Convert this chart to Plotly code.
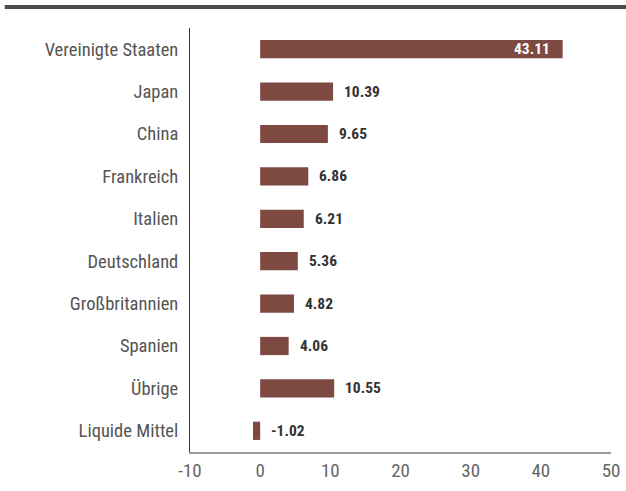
import plotly.graph_objects as go

categories = ["Vereinigte Staaten", "Japan", "China", "Frankreich", "Italien",
              "Deutschland", "Großbritannien", "Spanien", "Übrige", "Liquide Mittel"]
values = [43.11, 10.39, 9.65, 6.86, 6.21, 5.36, 4.82, 4.06, 10.55, -1.02]
tick_vals = [-10, 0, 10, 20, 30, 40, 50]
tick_text = ["-10", "0", "10", "20", "30", "40", "50"]

FONT = "Roboto Condensed, Roboto, sans-serif"
BAR = "#7d4940"

fig = go.Figure(go.Bar(
    y=categories, x=values, orientation="h",
    marker=dict(color=BAR, line=dict(width=0)),
    width=0.43, hoverinfo="skip",
))

annotations = []
for i, (c, v) in enumerate(zip(categories, values)):
    if i == 0:
        annotations.append(dict(x=v, y=c, xref="x", yref="y", text=f"{v:.2f}",
                                showarrow=False, xanchor="right", xshift=-11,
                                font=dict(family=FONT, size=15.5, color="white", weight="bold")))
    else:
        annotations.append(dict(x=max(v, 0), y=c, xref="x", yref="y", text=f"{v:.2f}",
                                showarrow=False, xanchor="left", xshift=9,
                                font=dict(family=FONT, size=15.5, color="#333333", weight="bold")))

fig.update_layout(
    width=626, height=491,
    margin=dict(l=190, r=15, t=28, b=39),
    paper_bgcolor="white", plot_bgcolor="white",
    showlegend=False,
    annotations=annotations,
    xaxis=dict(range=[-10, 50], tickvals=tick_vals, ticktext=tick_text,
               showgrid=False, zeroline=False, ticklabeloverflow="allow",
               automargin=False,
               showline=True, linecolor="#999999", linewidth=1.5,
               ticks="", tickfont=dict(family=FONT, size=19, color="#666666")),
    yaxis=dict(autorange=False, range=[9.5, -0.5], showgrid=False, zeroline=False,
               automargin=False,
               showline=True, linecolor="#333333", linewidth=1,
               ticks="", ticklabelstandoff=7,
               tickfont=dict(family=FONT, size=18.5, color="#555555")),
    shapes=[dict(type="line", xref="paper", yref="paper",
                 x0=-0.44, x1=1.04, y0=1.0495, y1=1.0495,
                 line=dict(color="#4a4a4a", width=4))],
)

fig.write_html("out.html",
               config={"displayModeBar": False},
               post_script="document.body.style.margin='0';document.body.style.overflow='hidden';")
